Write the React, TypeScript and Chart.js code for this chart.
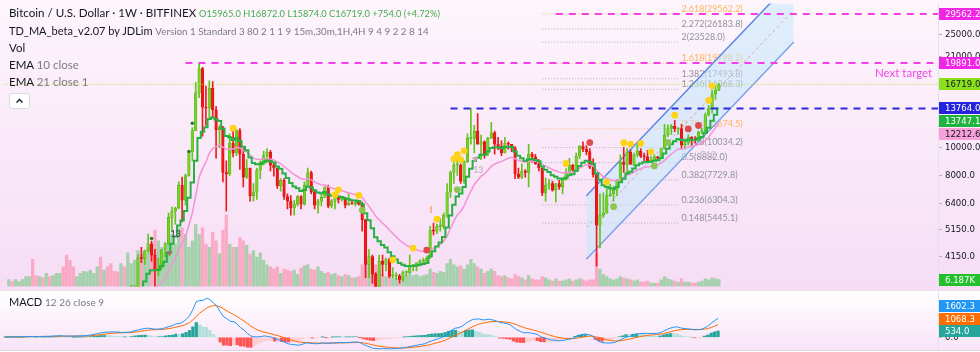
import React, { useEffect, useRef } from 'react';
import { Chart, registerables } from 'chart.js';

Chart.register(...registerables);

const FONT = 'Lato, "Noto Sans", "DejaVu Sans", sans-serif';
const AXIS_FONT = '"Liberation Sans Narrow", "DejaVu Sans Condensed", Lato, sans-serif';

// x axis = weekly bar index; 0 = week of 2016-11-14, 209 = week of 2020-11-16
const X_MIN = -1.55;
const X_MAX = 273.5;
const FIRST_CANDLE = 36;

// price pane (log)
const Y_MIN = 3263;
const Y_MAX = 32131;
const PRICE_TICKS = [25000, 21000, 17000, 13500, 10000, 8000, 6400, 5150, 4150, 3450];
const VOL_AXIS_MAX = 261;
// macd pane
const M_MIN = -1071;
const M_MAX = 3903;

// ---- weekly candles, index 36 .. 209 ----
const OPEN = [
  2750, 2750, 3250, 4100, 4090, 4350, 4600, 4200, 3700, 3780, // 36
  4380, 4600, 5700, 6000, 6150, 7400, 6550, 8000, 9700, 11500, // 46
  15600, 19000, 13900, 13800, 16200, 13600, 11600, 11800, 8200, 8100, // 56
  10400, 9600, 11500, 9500, 7900, 8500, 6800, 7000, 8350, 8900, // 66
  9400, 9650, 8700, 8500, 7350, 7700, 6750, 6500, 6150, 6350, // 76
  6750, 6350, 7400, 8200, 7000, 6300, 6500, 6700, 7300, 6250, // 86
  6500, 6700, 6600, 6600, 6300, 6400, 6350, 6450, 6350, 5600, // 96
  3900, 4150, 3600, 3250, 4000, 3900, 4050, 3550, 3550, 3550, // 106
  3450, 3650, 3650, 3850, 3850, 3950, 4000, 4000, 4100, 5150, // 116
  5100, 5300, 5300, 5800, 7000, 8200, 8700, 8700, 7650, 8950, // 126
  10800, 10800, 11450, 10300, 10500, 9500, 10800, 11300, 10300, 10100, // 136
  9600, 10400, 10300, 10000, 8100, 7900, 8300, 8200, 9500, 9300, // 146
  8800, 8500, 6950, 7400, 7500, 7100, 7500, 7300, 7750, 8150, // 156
  8700, 8350, 9350, 10150, 9900, 9700, 8550, 8050, 5350, 5800, // 166
  5900, 6800, 6900, 7100, 7700, 8900, 8750, 9650, 8750, 9450, // 176
  9750, 9350, 9300, 9000, 9050, 9300, 9200, 9950, 11100, 11700, // 186
  11900, 11650, 11700, 10250, 10450, 10900, 10750, 10650, 11350, 11500, // 196
  13050, 13800, 15500, 15965, // 206
];
const HIGH = [
  2850, 3300, 4200, 4480, 4380, 4980, 4700, 4400, 4100, 4400,
  4650, 5900, 6200, 6200, 7600, 7900, 8100, 9750, 11800, 17000,
  19891, 19200, 16500, 17200, 17100, 14000, 12000, 11900, 9000, 11200,
  11800, 11600, 11700, 9950, 9100, 8500, 7500, 8500, 9000, 9750,
  9950, 9800, 8850, 8500, 7800, 7800, 6900, 6800, 6550, 6800,
  6800, 7600, 8500, 8300, 7150, 6600, 6900, 7300, 7400, 6600,
  6800, 6800, 6700, 6700, 6900, 6500, 6500, 6550, 6450, 5600,
  4400, 4200, 3650, 4200, 4200, 4100, 4100, 3800, 3650, 3600,
  3700, 3700, 4200, 3900, 3950, 4050, 4100, 4150, 5300, 5450,
  5400, 5650, 5900, 7500, 8300, 8900, 9100, 8800, 9000, 11200,
  13764, 12000, 13200, 11100, 10600, 10900, 12300, 11450, 10900, 10600,
  10900, 10500, 10300, 10100, 8500, 8800, 8400, 10300, 9650, 9500,
  9100, 8500, 7850, 7750, 7650, 7500, 7700, 7850, 8450, 9200,
  8750, 9600, 10200, 10500, 10200, 9950, 9150, 8150, 6900, 6950,
  7200, 7450, 7300, 7750, 9450, 10050, 9950, 9850, 9600, 10400,
  9950, 9600, 9800, 9350, 9450, 9350, 9950, 12100, 12050, 12100,
  12500, 11800, 12100, 10600, 11150, 10950, 10950, 11450, 11750, 13250,
  14100, 15950, 16500, 16872,
];
const LOW = [
  2620, 2650, 3200, 3950, 3900, 4300, 4000, 2980, 3550, 3750,
  4150, 4560, 5100, 5400, 6100, 5500, 6300, 7950, 9000, 11500,
  15000, 11000, 12000, 12800, 12800, 9200, 10000, 7600, 6000, 8000,
  9300, 9400, 8400, 7300, 7800, 6500, 6500, 6600, 7800, 8700,
  8900, 8300, 7950, 7200, 7050, 6600, 6100, 5800, 5800, 6250,
  6100, 6300, 7400, 6900, 6100, 5900, 6250, 6700, 6150, 6150,
  6100, 6400, 6500, 6150, 6300, 6350, 6250, 6300, 5100, 3500,
  3500, 3350, 3150, 3250, 3550, 3700, 3500, 3500, 3450, 3350,
  3400, 3550, 3650, 3700, 3700, 3850, 3950, 3950, 4100, 4950,
  5000, 5100, 5200, 5700, 6700, 7500, 8000, 7500, 7500, 8900,
  10300, 9600, 10300, 9100, 9200, 9400, 10800, 9500, 9850, 9400,
  9600, 9900, 9700, 7800, 7800, 7800, 7900, 7300, 8900, 8750,
  8300, 6800, 6500, 7150, 7050, 6450, 7150, 6900, 7700, 8100,
  8250, 8300, 9150, 9700, 9450, 8450, 7900, 3850, 4450, 5700,
  5900, 6750, 6500, 6800, 7650, 8200, 8150, 8850, 8650, 9300,
  9250, 9000, 8850, 8950, 9050, 9050, 9150, 9900, 10950, 11150,
  11400, 11150, 9900, 9900, 10250, 10200, 10400, 10550, 11200, 11400,
  12950, 13300, 14800, 15874,
];
const CLOSE = [
  2750, 3250, 4100, 4090, 4350, 4600, 4200, 3700, 3780, 4380,
  4600, 5700, 6000, 6150, 7400, 6550, 8000, 9700, 11500, 15600,
  19000, 13900, 13800, 16200, 13600, 11600, 11800, 8200, 8100, 10400,
  9600, 11500, 9500, 7900, 8500, 6800, 7000, 8350, 8900, 9400,
  9650, 8700, 8500, 7350, 7700, 6750, 6500, 6150, 6350, 6750,
  6350, 7400, 8200, 7000, 6300, 6500, 6700, 7300, 6250, 6500,
  6700, 6600, 6600, 6300, 6400, 6350, 6450, 6350, 5600, 3900,
  4150, 3600, 3250, 4000, 3900, 4050, 3550, 3550, 3550, 3450,
  3650, 3650, 3850, 3850, 3950, 4000, 4000, 4100, 5150, 5100,
  5300, 5300, 5800, 7000, 8200, 8700, 8700, 7650, 8950, 10800,
  10800, 11450, 10300, 10500, 9500, 10800, 11300, 10300, 10100, 9600,
  10400, 10300, 10000, 8100, 7900, 8300, 8200, 9500, 9300, 8800,
  8500, 6950, 7400, 7500, 7100, 7500, 7300, 7750, 8150, 8700,
  8350, 9350, 10150, 9900, 9700, 8550, 8050, 5350, 5800, 5900,
  6800, 6900, 7100, 7700, 8900, 8750, 9650, 8750, 9450, 9750,
  9350, 9300, 9000, 9050, 9300, 9200, 9950, 11100, 11700, 11900,
  11650, 11700, 10250, 10450, 10900, 10750, 10650, 11350, 11500, 13050,
  13800, 15500, 15965, 16719,
];
// EMA 10 close (green step line), index 36 .. 209
const EMA10 = [
  2620, 2735, 2983, 3184, 3396, 3615, 3721, 3717, 3728, 3847,
  3984, 4296, 4606, 4887, 5344, 5563, 6006, 6678, 7555, 9018,
  10833, 11391, 11829, 12624, 12801, 12583, 12441, 11670, 11021, 10908,
  10670, 10821, 10581, 10094, 9804, 9258, 8847, 8757, 8783, 8895,
  9032, 8972, 8886, 8607, 8442, 8134, 7837, 7530, 7315, 7212,
  7055, 7118, 7315, 7258, 7084, 6978, 6927, 6995, 6860, 6795,
  6778, 6746, 6719, 6643, 6599, 6554, 6535, 6501, 6337, 5894,
  5577, 5218, 4860, 4704, 4558, 4466, 4299, 4163, 4052, 3943,
  3890, 3846, 3847, 3847, 3866, 3890, 3910, 3945, 4164, 4334,
  4510, 4654, 4862, 5251, 5787, 6317, 6750, 6914, 7284, 7923,
  8446, 8992, 9230, 9461, 9468, 9710, 9999, 10054, 10062, 9978,
  10055, 10100, 10082, 9722, 9391, 9193, 9012, 9101, 9137, 9076,
  8971, 8604, 8385, 8224, 8020, 7925, 7811, 7800, 7864, 8016,
  8077, 8308, 8643, 8872, 9023, 8937, 8776, 8153, 7725, 7393,
  7285, 7215, 7194, 7286, 7579, 7792, 8130, 8243, 8462, 8696,
  8815, 8903, 8921, 8944, 9009, 9044, 9209, 9553, 9943, 10299,
  10545, 10755, 10663, 10624, 10674, 10688, 10681, 10803, 10930, 11315,
  11767, 12446, 13086, 13747,
];
// EMA 21 close (pink line), index 36 .. 209
const EMA21 = [
  2432, 2506, 2651, 2782, 2925, 3077, 3179, 3226, 3276, 3376,
  3487, 3688, 3898, 4103, 4403, 4598, 4907, 5343, 5903, 6784,
  7894, 8440, 8927, 9588, 9953, 10103, 10257, 10070, 9891, 9937,
  9906, 10051, 10001, 9810, 9691, 9428, 9207, 9129, 9108, 9135,
  9182, 9138, 9080, 8923, 8812, 8625, 8432, 8225, 8055, 7936,
  7792, 7756, 7796, 7724, 7595, 7495, 7423, 7412, 7306, 7233,
  7185, 7132, 7084, 7013, 6957, 6902, 6861, 6815, 6705, 6450,
  6241, 6001, 5751, 5592, 5438, 5312, 5152, 5006, 4874, 4745,
  4645, 4555, 4491, 4433, 4389, 4354, 4322, 4302, 4379, 4445,
  4523, 4594, 4704, 4913, 5212, 5529, 5817, 5984, 6254, 6667,
  7043, 7444, 7704, 7958, 8098, 8344, 8613, 8766, 8887, 8952,
  9084, 9195, 9268, 9162, 9047, 8979, 8908, 8962, 8993, 8975,
  8932, 8752, 8629, 8526, 8396, 8315, 8223, 8180, 8177, 8225,
  8236, 8337, 8502, 8629, 8726, 8710, 8650, 8350, 8118, 7916,
  7815, 7732, 7675, 7677, 7788, 7875, 8036, 8101, 8224, 8363,
  8453, 8530, 8573, 8616, 8678, 8725, 8836, 9042, 9284, 9522,
  9715, 9895, 9927, 9975, 10059, 10122, 10170, 10277, 10388, 10630,
  10918, 11335, 11756, 12213,
];
// ---- weekly volume (K), index 0 .. 209 ----
const VOLUME = [
  6.3, 4.5, 6.3, 4.5, 6.3, 9, 9, 25, 10, 9,
  8, 12, 9, 10, 12, 12, 18, 29, 24, 18,
  9, 12, 14, 13.5, 15, 12, 18, 27, 15, 18,
  21, 14, 13.5, 21, 18, 31, 21, 24, 33, 30,
  29, 36, 39, 52, 42, 36, 31, 42, 48, 39,
  54, 54, 48, 36, 42, 57, 48, 54, 39, 36,
  50, 42, 30, 52, 66, 39, 36, 36, 45, 42,
  38, 30, 33, 27, 31, 24, 20, 18, 16, 18,
  12, 16, 15, 14, 15, 11, 17, 19, 20, 16,
  15, 18, 14, 12, 13, 11, 12, 10, 9, 11,
  10, 8, 8, 9, 20, 25, 21, 18, 20, 16,
  11, 9, 12, 8, 7, 8, 9, 10, 14, 10,
  11, 9, 10, 11, 16, 13, 12, 14, 13, 21,
  25, 20, 18, 19, 16, 20, 25, 21, 18, 16,
  12, 14, 16, 14, 10, 9, 10, 8, 7, 11,
  9, 8, 6, 10, 7, 6, 6, 9, 8, 6,
  5, 7, 5, 5, 6, 7, 5, 6, 7, 6,
  5, 6, 6, 30, 16, 11, 9, 7, 6, 7,
  9, 8, 7, 6, 5, 6, 4, 4, 5, 3,
  3, 3, 6, 9, 7, 6, 5, 4, 7, 4,
  4, 3, 3, 4, 5, 7, 6, 8, 7, 6.187,
];
// up/down weeks before the first visible candle (u = up, d = down)
const EARLY_VOL_UP = 'uduuuuuddududuuudddduuuuuuududdddudu';

// ---- MACD 12 26 close 9, index 0 .. 209 ----
const MACD = [
  32, 33, 35, 37, 39, 50, 65, 68, 63, 66,
  68, 77, 81, 88, 103, 121, 130, 114, 101, 99,
  104, 108, 115, 129, 156, 191, 248, 298, 373, 416,
  441, 452, 451, 449, 403, 418, 425, 466, 560, 626,
  691, 754, 763, 722, 687, 700, 720, 816, 906, 977,
  1121, 1153, 1281, 1502, 1802, 2343, 3011, 3094, 3115, 3288,
  3179, 2898, 2660, 2157, 1730, 1560, 1344, 1311, 1111, 814,
  620, 325, 107, 42, 35, 69, 114, 72, 22, -108,
  -181, -312, -431, -547, -616, -631, -668, -605, -485, -481,
  -528, -543, -533, -471, -501, -498, -475, -460, -443, -448,
  -438, -430, -410, -398, -444, -611, -714, -831, -941, -957,
  -967, -951, -968, -970, -960, -949, -915, -877, -821, -769,
  -711, -653, -601, -545, -412, -306, -204, -121, -15, 164,
  397, 615, 779, 815, 937, 1170, 1339, 1508, 1531, 1548,
  1464, 1485, 1525, 1459, 1375, 1254, 1208, 1150, 1068, 840,
  636, 501, 381, 387, 371, 315, 243, 60, -48, -124,
  -214, -251, -293, -286, -246, -168, -133, -24, 125, 221,
  278, 227, 145, -136, -319, -450, -476, -483, -468, -402,
  -250, -140, 19, 72, 168, 265, 307, 332, 324, 318,
  330, 327, 381, 510, 654, 775, 841, 887, 797, 734,
  712, 675, 630, 644, 659, 787, 938, 1181, 1395, 1602,
];
const SIGNAL = [
  30, 31, 32, 33, 34, 37, 43, 48, 51, 54,
  57, 61, 65, 70, 77, 86, 95, 99, 99, 99,
  100, 102, 105, 110, 119, 133, 156, 184, 222, 261,
  297, 328, 353, 372, 378, 386, 394, 408, 438, 476,
  519, 566, 605, 628, 640, 652, 666, 696, 738, 786,
  853, 913, 987, 1090, 1232, 1454, 1765, 2031, 2248, 2456,
  2601, 2660, 2660, 2559, 2393, 2226, 2050, 1902, 1744, 1558,
  1370, 1161, 950, 768, 621, 511, 432, 360, 292, 212,
  134, 45, -50, -149, -242, -320, -390, -433, -443, -451,
  -466, -481, -491, -487, -490, -492, -489, -483, -475, -470,
  -464, -457, -448, -438, -439, -473, -521, -583, -655, -715,
  -765, -802, -835, -862, -882, -895, -899, -895, -880, -858,
  -829, -794, -755, -713, -653, -584, -508, -431, -348, -245,
  -117, 29, 179, 306, 432, 580, 732, 887, 1016, 1122,
  1190, 1249, 1304, 1335, 1343, 1325, 1302, 1272, 1231, 1153,
  1050, 940, 828, 740, 666, 596, 525, 432, 336, 244,
  152, 72, -1, -58, -96, -110, -115, -97, -53, 2,
  57, 91, 102, 54, -21, -107, -181, -241, -286, -309,
  -297, -266, -209, -153, -88, -17, 48, 105, 149, 183,
  212, 235, 264, 313, 381, 460, 536, 606, 644, 662,
  672, 673, 664, 660, 660, 685, 736, 825, 939, 1068,
];
const HIST = [
  2, 2, 3, 4, 5, 13, 22, 20, 12, 12,
  11, 16, 16, 18, 26, 35, 35, 15, 2, 0,
  4, 6, 10, 19, 37, 58, 92, 114, 151, 155,
  144, 124, 98, 77, 25, 32, 31, 58, 122, 150,
  172, 188, 158, 94, 47, 48, 54, 120, 168, 191,
  268, 240, 294, 412, 570, 889, 1246, 1063, 867, 832,
  578, 238, 0, -402, -663, -666, -706, -591, -633, -744,
  -750, -836, -843, -726, -586, -442, -318, -288, -270, -320,
  -315, -357, -381, -398, -374, -311, -278, -172, -42, -30,
  -62, -62, -42, 16, -11, -6, 14, 23, 32, 22,
  26, 27, 38, 40, -5, -138, -193, -248, -286, -242,
  -202, -149, -133, -108, -78, -54, -16, 18, 59, 89,
  118, 141, 154, 168, 241, 278, 304, 310, 333, 409,
  514, 586, 600, 509, 505, 590, 607, 621, 515, 426,
  274, 236, 221, 124, 32, -71, -94, -122, -163, -313,
  -414, -439, -447, -353, -295, -281, -282, -372, -384, -368,
  -366, -323, -292, -228, -150, -58, -18, 73, 178, 219,
  221, 136, 43, -190, -298, -343, -295, -242, -182, -93,
  47, 126, 228, 225, 256, 282, 259, 227, 175, 135,
  118, 92, 117, 197, 273, 315, 305, 281, 153, 72,
  40, 2, -34, -16, -1, 102, 202, 356, 456, 534,
];

// ---- signal dots (bar index, price) ----
const YELLOW_DOT_X = [66, 96, 97, 103, 113, 119, 126, 131, 132, 133, 134, 164, 176, 181, 183, 186, 189, 196, 206, 207];
const YELLOW_DOT_Y = [11736, 6849, 7124, 6811, 4047, 4449, 5623, 9147, 9463, 9097, 9766, 8815, 7588, 10427, 10320, 10378, 9690, 13024, 14683, 16527];
const RED_DOT_X = [123, 171, 200, 203];
const RED_DOT_Y = [4379, 10443, 11663, 11989];
const GREEN_DOT_X = [104, 132, 178, 190, 194];
const GREEN_DOT_Y = [6051, 7140, 6216, 8642, 10443];
const SMALL_DOT_X = [42, 53, 54];
const SMALL_DOT_Y = [4803, 9712, 12208];
// setup-completion markers (down triangles) and their labels
const TRIANGLE_X = [47.3, 137.2];
const TRIANGLE_Y = [4277, 9147];
const TRIANGLE_COLOR = ['#a0706a', '#d4a9b4'];
const MARK_TEXT = ['13', '13', 'I', 'C12'];
const MARK_X = [49.1, 138.2, 124.3, 205.7];
const MARK_Y = [4968, 8360, 6037, 9463];
const MARK_COLOR = ['#50545e', '#cdb6c6', '#f5a05a', '#cbbfca'];

// ---- drawings ----
const HLINE_PRICE = [29562.2, 19891.0, 13764.0];
const HLINE_START = [161, 52, 130];
const HLINE_COLOR = ['#f43ee6', '#f43ee6', '#2a2ae0'];
const LAST_PRICE = 16719.0;

const FIB_LEVELS = ['2.618', '2.272', '2', '1.618', '1.382', '1.236', '0.786', '0.618', '0.5', '0.382', '0.236', '0.148'];
const FIB_PRICES = [29562.2, 26183.8, 23528.0, 19798.2, 17493.8, 16068.3, 11674.5, 10034.2, 8882.0, 7729.8, 6304.3, 5445.1];
const FIB_HIGHLIGHT = ['2.618', '1.618', '0.786'];
const FIB_X = [157, 197];
const FIB_LABEL_X = 198;

const CHANNEL_X = [170, 231];
const CHANNEL_UPPER = [6795, 39300];
const CHANNEL_LOWER = [4070, 23550];
const CHANNEL_MID = [5259, 30430];

const NEXT_TARGET_X = 271.8;
const NEXT_TARGET_PRICE = 18350;

const PRICE_BOXES = [
  { value: 29562.2, text: '29562.2', bg: '#f026e4', fg: '#ffffff', axis: 'y' },
  { value: 19891.0, text: '19891.0', bg: '#f026e4', fg: '#ffffff', axis: 'y' },
  { value: 16719.0, text: '16719.0', bg: '#8be01c', fg: '#131722', axis: 'y' },
  { value: 13764.0, text: '13764.0', bg: '#2424e0', fg: '#ffffff', axis: 'y' },
  { value: 13747.1, text: '13747.1', bg: '#1fb43f', fg: '#ffffff', axis: 'y' },
  { value: 12212.6, text: '12212.6', bg: '#f8a1d8', fg: '#131722', axis: 'y' },
  { value: 6.187, text: '6.187K', bg: '#22c02c', fg: '#ffffff', axis: 'yVol' },
];
const MACD_BOXES = [
  { value: 1602.3, text: '1602.3', bg: '#2196f3', fg: '#ffffff', axis: 'y' },
  { value: 1068.3, text: '1068.3', bg: '#ff6d00', fg: '#ffffff', axis: 'y' },
  { value: 534.0, text: '534.0', bg: '#26a69a', fg: '#ffffff', axis: 'y' },
];

const candleUp = CLOSE.map((c, k) => c >= OPEN[k]);

function drawBoxes(chart: any, items: any[], down: boolean, gap: number) {
  const ctx = chart.ctx;
  const area = chart.chartArea;
  const list = items.map((it) => ({ ...it, py: chart.scales[it.axis].getPixelForValue(it.value) }));
  list.sort((a, b) => (down ? a.py - b.py : b.py - a.py));
  for (let k = 1; k < list.length; k++) {
    if (down) list[k].py = Math.max(list[k].py, list[k - 1].py + gap);
    else list[k].py = Math.min(list[k].py, list[k - 1].py - gap);
  }
  ctx.save();
  ctx.font = `9.5px ${AXIS_FONT}`;
  ctx.textBaseline = 'middle';
  ctx.textAlign = 'left';
  list.forEach((it) => {
    ctx.fillStyle = it.bg;
    ctx.fillRect(area.right + 1, Math.round(it.py - 6), 44, 12);
    ctx.fillStyle = it.fg;
    ctx.fillText(it.text, area.right + 7, it.py + 0.5);
  });
  ctx.restore();
}

const priceBg = {
  id: 'priceBg',
  beforeDraw(chart: any) {
    const { ctx, width, height } = chart;
    const g = ctx.createLinearGradient(0, 0, 0, height);
    g.addColorStop(0, '#fdf5fc');
    g.addColorStop(1, '#f6ddf5');
    ctx.save();
    ctx.fillStyle = g;
    ctx.fillRect(0, 0, width, height);
    ctx.restore();
  },
  beforeDatasetsDraw(chart: any) {
    const { ctx } = chart;
    const x = chart.scales.x;
    const y = chart.scales.y;
    ctx.save();
    ctx.font = `9px ${FONT}`;
    ctx.textBaseline = 'middle';
    ctx.textAlign = 'left';
    FIB_LEVELS.forEach((lv, k) => {
      ctx.fillStyle = FIB_HIGHLIGHT.includes(lv) ? '#ffb45c' : '#8f929c';
      ctx.fillText(`${lv}(${FIB_PRICES[k].toFixed(1)})`, x.getPixelForValue(FIB_LABEL_X), y.getPixelForValue(FIB_PRICES[k]) - 5);
    });
    ctx.font = `11.5px ${FONT}`;
    ctx.textAlign = 'right';
    ctx.fillStyle = '#f046e6';
    ctx.fillText('Next target', x.getPixelForValue(NEXT_TARGET_X), y.getPixelForValue(NEXT_TARGET_PRICE));
    ctx.restore();
  },
  afterDatasetsDraw(chart: any) {
    const { ctx } = chart;
    const x = chart.scales.x;
    const y = chart.scales.y;
    ctx.save();
    ctx.font = `bold 9px ${FONT}`;
    ctx.textBaseline = 'middle';
    ctx.textAlign = 'center';
    MARK_TEXT.forEach((t, k) => {
      ctx.fillStyle = MARK_COLOR[k];
      ctx.fillText(t, x.getPixelForValue(MARK_X[k]), y.getPixelForValue(MARK_Y[k]));
    });
    ctx.restore();
  },
  afterDraw(chart: any) {
    drawBoxes(chart, PRICE_BOXES, true, 13);
  },
};

const macdBg = {
  id: 'macdBg',
  beforeDraw(chart: any) {
    const { ctx, width, height } = chart;
    const g = ctx.createLinearGradient(0, 0, 0, height);
    g.addColorStop(0, '#ffffff');
    g.addColorStop(1, '#f9e4f7');
    ctx.save();
    ctx.fillStyle = g;
    ctx.fillRect(0, 0, width, height);
    ctx.restore();
  },
  afterDraw(chart: any) {
    drawBoxes(chart, MACD_BOXES, false, 12.4);
  },
};

const lineBase = { type: 'line', pointRadius: 0, pointHoverRadius: 0, tension: 0, fill: false };

function dotSet(xs: number[], ys: number[], color: any, r: number, order: number, style = 'circle', rot = 0) {
  return {
    type: 'line',
    data: xs.map((v, k) => ({ x: v, y: ys[k] })),
    showLine: false,
    pointRadius: r,
    pointHoverRadius: r,
    pointStyle: style,
    pointRotation: rot,
    pointBackgroundColor: color,
    pointBorderColor: color,
    pointBorderWidth: 0,
    order,
  };
}

const axisTicks = {
  callback: (v: any) => Number(v).toFixed(1),
  font: { size: 9.5, family: AXIS_FONT },
  color: '#131722',
  padding: 3,
  autoSkip: false,
  maxRotation: 0,
};

function priceConfig(): any {
  const volUp = VOLUME.map((_, i) => (i < FIRST_CANDLE ? EARLY_VOL_UP[i] === 'u' : candleUp[i - FIRST_CANDLE]));
  const datasets: any[] = [];
  datasets.push({
    type: 'bar',
    data: VOLUME.map((v, i) => ({ x: i, y: v })),
    yAxisID: 'yVol',
    backgroundColor: volUp.map((u) => (u ? 'rgba(96,196,112,0.55)' : 'rgba(255,96,128,0.42)')),
    barThickness: 2.6,
    grouped: false,
    order: 100,
  });
  FIB_PRICES.forEach((p, k) => {
    datasets.push({
      ...lineBase,
      data: [{ x: FIB_X[0], y: p }, { x: FIB_X[1], y: p }],
      borderColor: FIB_HIGHLIGHT.includes(FIB_LEVELS[k]) ? 'rgba(255,170,80,0.8)' : 'rgba(150,153,163,0.75)',
      borderWidth: 1,
      borderDash: [1, 2],
      order: 90,
    });
  });
  datasets.push({
    ...lineBase,
    data: CHANNEL_X.map((v, k) => ({ x: v, y: CHANNEL_UPPER[k] })),
    borderColor: '#5a8ae6',
    borderWidth: 1.5,
    fill: '+1',
    backgroundColor: 'rgba(196,232,252,0.55)',
    order: 80,
  });
  datasets.push({
    ...lineBase,
    data: CHANNEL_X.map((v, k) => ({ x: v, y: CHANNEL_LOWER[k] })),
    borderColor: '#5a8ae6',
    borderWidth: 1.5,
    order: 80,
  });
  datasets.push({
    ...lineBase,
    data: CHANNEL_X.map((v, k) => ({ x: v, y: CHANNEL_MID[k] })),
    borderColor: 'rgba(236,110,110,0.6)',
    borderWidth: 1,
    borderDash: [3, 3],
    order: 79,
  });
  datasets.push({
    type: 'bar',
    data: HIGH.map((h, k) => ({ x: FIRST_CANDLE + k, y: [LOW[k], h] })),
    backgroundColor: candleUp.map((u) => (u ? '#62c41c' : '#ef1b1b')),
    barThickness: 1,
    grouped: false,
    order: 40,
  });
  datasets.push({
    type: 'bar',
    data: OPEN.map((o, k) => ({ x: FIRST_CANDLE + k, y: [o, CLOSE[k]] })),
    backgroundColor: candleUp.map((u) => (u ? '#76d324' : '#f31717')),
    borderColor: candleUp.map((u) => (u ? '#4fae17' : '#d81010')),
    borderWidth: 0.6,
    borderSkipped: false,
    barThickness: 2.6,
    minBarLength: 1,
    grouped: false,
    order: 39,
  });
  datasets.push({
    ...lineBase,
    data: EMA21.map((v, k) => ({ x: FIRST_CANDLE + k, y: v })),
    borderColor: '#f492d6',
    borderWidth: 1.5,
    order: 30,
  });
  datasets.push({
    ...lineBase,
    data: EMA10.map((v, k) => ({ x: FIRST_CANDLE + k, y: v })),
    borderColor: '#27b043',
    borderWidth: 2,
    stepped: 'middle',
    order: 25,
  });
  datasets.push({
    ...lineBase,
    data: [{ x: X_MIN, y: LAST_PRICE }, { x: X_MAX, y: LAST_PRICE }],
    borderColor: '#b4e21c',
    borderWidth: 1,
    borderDash: [1, 2],
    order: 8,
  });
  HLINE_PRICE.forEach((p, k) => {
    datasets.push({
      ...lineBase,
      data: [{ x: HLINE_START[k], y: p }, { x: X_MAX, y: p }],
      borderColor: HLINE_COLOR[k],
      borderWidth: 2,
      borderDash: [7, 6],
      order: 6,
    });
  });
  datasets.push(dotSet(TRIANGLE_X, TRIANGLE_Y, TRIANGLE_COLOR, 3.6, 5, 'triangle', 180));
  datasets.push(dotSet(SMALL_DOT_X, SMALL_DOT_Y, '#2f7d32', 1.8, 4));
  datasets.push(dotSet(YELLOW_DOT_X, YELLOW_DOT_Y, '#ffd21a', 3.4, 3));
  datasets.push(dotSet(RED_DOT_X, RED_DOT_Y, '#dd4b4b', 3.4, 3));
  datasets.push(dotSet(GREEN_DOT_X, GREEN_DOT_Y, '#8cc64e', 3.4, 3));

  return {
    type: 'bar',
    data: { datasets },
    plugins: [priceBg],
    options: {
      animation: false,
      responsive: false,
      devicePixelRatio: 1,
      events: [],
      layout: { padding: 0 },
      plugins: { legend: { display: false }, tooltip: { enabled: false } },
      scales: {
        x: { type: 'linear', min: X_MIN, max: X_MAX, display: false, offset: false },
        y: {
          type: 'logarithmic',
          position: 'right',
          min: Y_MIN,
          max: Y_MAX,
          afterBuildTicks: (s: any) => {
            s.ticks = PRICE_TICKS.map((v) => ({ value: v }));
          },
          afterFit: (s: any) => {
            s.width = 42;
            s.paddingTop = 0;
            s.paddingBottom = 0;
          },
          ticks: axisTicks,
          grid: { drawOnChartArea: false, tickLength: 4, color: '#b2b5be' },
          border: { display: true, color: '#e0e3eb' },
        },
        yVol: { type: 'linear', display: false, min: 0, max: VOL_AXIS_MAX },
      },
    },
  };
}

function macdConfig(): any {
  const histColors = HIST.map((h, i) => {
    const prev = i > 0 ? HIST[i - 1] : 0;
    if (h >= 0) return h >= prev ? '#26a69a' : '#b2dfdb';
    return h < prev ? '#ff5252' : '#ffcdd2';
  });
  return {
    type: 'bar',
    data: {
      datasets: [
        {
          type: 'bar',
          data: HIST.map((v, i) => ({ x: i, y: v })),
          backgroundColor: histColors,
          barThickness: 2.6,
          grouped: false,
          order: 10,
        },
        { ...lineBase, data: SIGNAL.map((v, i) => ({ x: i, y: v })), borderColor: '#ff6d00', borderWidth: 1, order: 5 },
        { ...lineBase, data: MACD.map((v, i) => ({ x: i, y: v })), borderColor: '#2196f3', borderWidth: 1, order: 4 },
      ],
    },
    plugins: [macdBg],
    options: {
      animation: false,
      responsive: false,
      devicePixelRatio: 1,
      events: [],
      layout: { padding: 0 },
      plugins: { legend: { display: false }, tooltip: { enabled: false } },
      scales: {
        x: { type: 'linear', min: X_MIN, max: X_MAX, display: false, offset: false },
        y: {
          type: 'linear',
          position: 'right',
          min: M_MIN,
          max: M_MAX,
          afterBuildTicks: (s: any) => {
            s.ticks = [{ value: 0 }];
          },
          afterFit: (s: any) => {
            s.width = 42;
            s.paddingTop = 0;
            s.paddingBottom = 0;
          },
          ticks: axisTicks,
          grid: { drawOnChartArea: false, tickLength: 4, color: '#b2b5be' },
          border: { display: true, color: '#e0e3eb' },
        },
      },
    },
  };
}

const DARK = '#131722';
const GRAY = '#787b86';

function Txt(props: { x: number; y: number; size: number; color?: string; children: any }) {
  return (
    <div
      style={{
        position: 'absolute',
        left: props.x,
        top: props.y - 8,
        height: 16,
        lineHeight: '16px',
        fontSize: props.size,
        whiteSpace: 'nowrap',
        color: props.color || DARK,
      }}
    >
      {props.children}
    </div>
  );
}

export default function App() {
  const priceRef = useRef<HTMLCanvasElement>(null);
  const macdRef = useRef<HTMLCanvasElement>(null);

  useEffect(() => {
    const pc = new Chart(priceRef.current as HTMLCanvasElement, priceConfig());
    const mc = new Chart(macdRef.current as HTMLCanvasElement, macdConfig());
    return () => {
      pc.destroy();
      mc.destroy();
    };
  }, []);

  const n = CLOSE.length - 1;
  const chg = CLOSE[n] - CLOSE[n - 1];
  const ohlc = `O${OPEN[n].toFixed(1)} H${HIGH[n].toFixed(1)} L${LOW[n].toFixed(1)} C${CLOSE[n].toFixed(1)} +${chg.toFixed(1)} (+${((chg / CLOSE[n - 1]) * 100).toFixed(2)}%)`;

  return (
    <div
      style={{
        position: 'fixed',
        left: 0,
        top: 0,
        width: 980,
        height: 352,
        overflow: 'hidden',
        background: '#ffffff',
        fontFamily: FONT,
      }}
    >
      <canvas ref={priceRef} width={980} height={290} style={{ position: 'absolute', left: 0, top: 0, width: 980, height: 290 }} />
      <div style={{ position: 'absolute', left: 0, top: 290, width: 980, height: 1, background: '#e6e0ea' }} />
      <canvas ref={macdRef} width={980} height={59} style={{ position: 'absolute', left: 0, top: 291, width: 980, height: 59 }} />
      <div style={{ position: 'absolute', left: 0, top: 350, width: 980, height: 2, background: '#ffffff', borderTop: '1px solid #d6d8de' }} />

      <Txt x={9} y={13} size={11.6}>
        Bitcoin / U.S. Dollar · 1W · BITFINEX
      </Txt>
      <Txt x={199} y={14} size={9.3} color="#43ad4d">
        {ohlc}
      </Txt>
      <Txt x={9} y={31} size={11}>
        TD_MA_beta_v2.07 by JDLim <span style={{ color: GRAY, fontSize: 9.8 }}>Version 1 Standard 3 80 2 1 1 9 15m,30m,1H,4H 9 4 9 2 2 8 14</span>
      </Txt>
      <Txt x={9} y={48} size={11.5}>
        Vol
      </Txt>
      <Txt x={9} y={65} size={11.5}>
        EMA <span style={{ color: GRAY }}>10 close</span>
      </Txt>
      <Txt x={9} y={82} size={11.5}>
        EMA <span style={{ color: GRAY }}>21 close 1</span>
      </Txt>
      <div
        style={{
          position: 'absolute',
          left: 9,
          top: 93,
          width: 19,
          height: 14,
          background: '#ffffff',
          border: '1px solid #d9dbe1',
          borderRadius: 3,
        }}
      >
        <svg width={19} height={14} style={{ position: 'absolute', left: 0, top: 0 }}>
          <polyline points="6.5,8.5 9.5,5.5 12.5,8.5" fill="none" stroke={DARK} strokeWidth={1.4} />
        </svg>
      </div>
      <Txt x={9} y={302} size={11}>
        MACD <span style={{ color: GRAY, fontSize: 10 }}>12 26 close 9</span>
      </Txt>
    </div>
  );
}
